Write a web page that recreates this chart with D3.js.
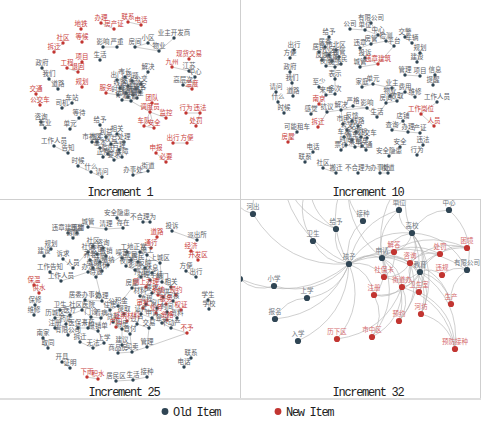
<!DOCTYPE html>
<html>
<head>
<meta charset="utf-8">
<script src="https://cdn.jsdelivr.net/npm/d3@7"></script>
<style>
  body { margin: 0; background: #fff; }
  svg { display: block; }
</style>
</head>
<body>
<svg id="chart" width="481" height="424"></svg>
<script>
// legend + panel titles
const seriesNames = ["Old Item", "New Item"]
const panelTitles = ["Increment 1", "Increment 10", "Increment 25", "Increment 32"]

// nodes: [name, x, y, isNew] in panel layout units (0..240 x 0..200)
// names starting with "_" carry no label
const inc1Nodes = [
  ["办理", 101, 23, 1], ["房产证", 114, 29, 1], ["联系", 128, 22, 1], ["电话", 141, 25, 1], ["地铁", 81, 29, 1],
  ["社区", 63, 43, 1], ["等候", 82, 42, 1], ["拆迁", 54, 52, 1], ["项目", 82, 62, 1], ["工程", 67, 68, 1],
  ["退回", 78, 72, 1], ["规划", 82, 87, 1], ["交通", 36, 94, 1], ["公交车", 40, 105, 1], ["服务", 106, 93, 1],
  ["现货交易", 189, 59, 1], ["九州", 172, 67, 1], ["温度", 192, 89, 1], ["团队", 152, 103, 1], ["调度员", 150, 112, 1],
  ["监控", 166, 118, 1], ["车队", 144, 126, 1], ["安全", 154, 128, 1], ["行为", 186, 113, 1], ["违法", 200, 113, 1],
  ["处罚", 196, 126, 1], ["出行", 173, 143, 1], ["方便", 187, 143, 1], ["申报", 156, 153, 1], ["必要", 166, 162, 1],
  ["业主开发商", 174, 38, 0], ["小区", 148, 43, 0], ["物业", 159, 51, 0], ["房间", 135, 47, 0], ["影响", 103, 47, 0],
  ["严重", 117, 47, 0], ["生活", 100, 60, 0], ["政府", 42, 68, 0], ["我们", 49, 79, 0], ["道路", 58, 89, 0],
  ["解决", 148, 72, 0], ["江苏", 189, 71, 0], ["中心", 195, 77, 0], ["高层次", 183, 85, 0],
  ["车站", 72, 103, 0], ["司机", 62, 108, 0], ["等待", 79, 118, 0], ["咨询", 41, 122, 0], ["营业", 45, 128, 0],
  ["单元", 70, 129, 0], ["给予", 100, 125, 0], ["工作人员", 54, 146, 0], ["告知", 68, 153, 0], ["市社区", 92, 142, 0],
  ["时候", 78, 166, 0], ["什么", 91, 172, 0], ["请问", 102, 177, 0], ["办事处", 133, 175, 0], ["街道", 148, 171, 0],
  ["出门", 117, 80, 0], ["市长", 125, 77, 0], ["问题", 132, 81, 0], ["公交", 141, 84, 0], ["线路", 120, 88, 0],
  ["站点", 128, 86, 0], ["班次", 136, 89, 0], ["时间", 118, 95, 0], ["车辆", 126, 93, 0], ["师傅", 133, 95, 0],
  ["乘客", 140, 92, 0], ["停靠", 122, 100, 0], ["运营", 131, 101, 0], ["调整", 137, 98, 0], ["延误", 128, 97, 0],
  ["利益", 106, 137, 0], ["相关", 117, 134, 0], ["处理", 124, 142, 0], ["权益", 111, 144, 0], ["基本", 100, 148, 0],
  ["合理", 119, 150, 0], ["原因", 108, 154, 0], ["要求", 114, 160, 0], ["正常", 103, 157, 0], ["保障", 122, 157, 0],
  ["核实", 97, 142, 0]
]
const inc1Links = [
  ["办理", "房产证"], ["联系", "电话"], ["社区", "拆迁"], ["项目", "退回"], ["工程", "退回"], ["交通", "公交车"],
  ["业主开发商", "物业"], ["小区", "物业"], ["房间", "物业"], ["小区", "房间"], ["影响", "严重"], ["政府", "我们"],
  ["我们", "道路"], ["车站", "司机"], ["咨询", "营业"], ["工作人员", "告知"], ["时候", "什么"], ["什么", "请问"],
  ["办事处", "街道"], ["行为", "违法"], ["违法", "处罚"], ["出行", "方便"], ["申报", "必要"], ["团队", "调度员"],
  ["调度员", "监控"], ["调度员", "车队"], ["车队", "安全"], ["调度员", "安全"], ["九州", "江苏"], ["江苏", "中心"],
  ["中心", "高层次"], ["高层次", "温度"], ["中心", "温度"], ["单元", "等待"],
  ["出门", "市长"], ["市长", "问题"], ["问题", "公交"], ["出门", "线路"], ["线路", "站点"], ["站点", "班次"],
  ["班次", "公交"], ["线路", "时间"], ["时间", "车辆"], ["车辆", "师傅"], ["师傅", "乘客"], ["乘客", "班次"],
  ["车辆", "停靠"], ["停靠", "运营"], ["运营", "调整"], ["调整", "乘客"], ["延误", "车辆"], ["延误", "站点"],
  ["延误", "运营"], ["市长", "站点"], ["问题", "班次"], ["师傅", "调整"], ["解决", "公交"], ["服务", "时间"],
  ["调度员", "运营"],
  ["利益", "相关"], ["相关", "处理"], ["利益", "权益"], ["权益", "处理"], ["基本", "权益"], ["合理", "处理"],
  ["原因", "权益"], ["原因", "要求"], ["要求", "保障"], ["正常", "原因"], ["合理", "保障"], ["核实", "基本"],
  ["市社区", "核实"], ["给予", "利益"], ["正常", "基本"]
]

const inc10Nodes = [
  ["有限公司", 131, 23, 0], ["公司", 110, 29, 0], ["单位", 125, 30, 0], ["中心", 138, 35, 0], ["检测", 146, 41, 0],
  ["房管", 131, 44, 0], ["平台", 154, 46, 0], ["违章", 120, 48, 0], ["交警", 165, 37, 0], ["车辆", 172, 43, 0],
  ["规划", 180, 53, 0], ["建设", 177, 62, 0], ["投诉", 125, 58, 0], ["城管", 120, 67, 0], ["违章建筑", 138, 64, 1],
  ["给予", 89, 37, 0], ["居委", 85, 47, 0], ["市北区", 96, 50, 0], ["居民", 79, 52, 0], ["小区", 89, 55, 0],
  ["物管", 99, 57, 0], ["反映", 82, 60, 0], ["噪音", 92, 61, 0], ["扰民", 101, 64, 0], ["夜间", 86, 66, 0],
  ["施工", 95, 67, 0], ["表示", 95, 79, 0],
  ["出行", 54, 50, 0], ["方便", 50, 58, 0], ["政府", 50, 72, 0], ["我们", 52, 83, 0], ["道路", 53, 96, 0],
  ["请问", 36, 92, 0], ["什么", 38, 102, 0], ["时候", 44, 113, 0],
  ["至少", 79, 87, 0], ["来电", 86, 95, 0], ["多次", 95, 94, 0], ["南京", 79, 104, 1], ["感觉", 71, 114, 0],
  ["抗议", 87, 112, 0], ["解决", 101, 110, 0], ["严格", 113, 106, 0], ["影响", 127, 108, 0], ["生活", 137, 117, 0],
  ["拆迁", 78, 127, 1], ["可能租车", 57, 132, 0], ["房屋", 48, 142, 1],
  ["家庭", 122, 87, 0], ["单元", 133, 84, 0], ["业主", 152, 88, 0], ["物业", 150, 96, 0], ["费用", 165, 92, 0],
  ["维修", 175, 97, 0], ["收取", 157, 101, 0], ["房间", 146, 103, 0],
  ["管理", 165, 75, 0], ["项目", 180, 76, 0], ["信息", 195, 75, 0], ["提醒", 193, 85, 0], ["工作人员", 197, 102, 0],
  ["工作岗位", 181, 114, 1], ["人员", 194, 126, 1],
  ["店铺", 163, 121, 0], ["查询", 152, 130, 0], ["办理", 168, 132, 0], ["产证", 180, 133, 0],
  ["市民", 103, 124, 0], ["反馈", 112, 121, 0], ["线路", 118, 126, 0], ["公交", 107, 130, 0], ["站台", 116, 132, 0],
  ["车次", 104, 137, 0], ["等车", 112, 140, 0], ["司机", 121, 137, 0], ["时间", 106, 145, 0], ["乘车", 115, 147, 0],
  ["票价", 101, 150, 0], ["班车", 122, 146, 0], ["公交车", 127, 138, 0], ["交通", 126, 150, 0],
  ["安全", 160, 147, 0], ["安全隐患", 149, 156, 0], ["违法", 183, 145, 0], ["行为", 177, 155, 0],
  ["电话", 73, 152, 0], ["联系", 65, 162, 0], ["社区", 83, 168, 0], ["搬迁", 96, 173, 0], ["不合理为", 118, 173, 0],
  ["办事处", 140, 173, 0], ["街道", 148, 173, 0]
]
const inc10Links = [
  ["公司", "单位"], ["单位", "有限公司"], ["单位", "中心"], ["中心", "检测"], ["检测", "平台"], ["房管", "检测"],
  ["房管", "违章"], ["中心", "房管"], ["平台", "违章建筑"], ["交警", "车辆"], ["规划", "建设"], ["投诉", "城管"],
  ["投诉", "违章建筑"], ["城管", "违章建筑"], ["违章", "投诉"], ["有限公司", "中心"],
  ["给予", "居委"], ["居委", "市北区"], ["居委", "居民"], ["居民", "小区"], ["小区", "物管"], ["市北区", "物管"],
  ["小区", "反映"], ["反映", "噪音"], ["噪音", "扰民"], ["物管", "扰民"], ["夜间", "噪音"], ["施工", "夜间"],
  ["施工", "扰民"], ["施工", "表示"], ["小区", "噪音"], ["市北区", "小区"], ["居民", "反映"],
  ["出行", "方便"], ["政府", "我们"], ["我们", "道路"], ["请问", "什么"], ["什么", "时候"],
  ["表示", "多次"], ["至少", "来电"], ["来电", "多次"], ["来电", "南京"], ["南京", "感觉"], ["南京", "抗议"],
  ["抗议", "解决"], ["解决", "严格"], ["严格", "影响"], ["影响", "生活"], ["拆迁", "抗议"], ["可能租车", "房屋"],
  ["解决", "影响"],
  ["家庭", "单元"], ["单元", "业主"], ["业主", "物业"], ["物业", "费用"], ["费用", "维修"], ["物业", "收取"],
  ["收取", "费用"], ["房间", "收取"], ["生活", "房间"], ["房间", "物业"],
  ["管理", "项目"], ["信息", "提醒"], ["工作人员", "工作岗位"], ["工作岗位", "人员"],
  ["店铺", "查询"], ["查询", "办理"], ["办理", "产证"], ["店铺", "办理"],
  ["市民", "反馈"], ["反馈", "线路"], ["市民", "公交"], ["公交", "站台"], ["线路", "站台"], ["公交", "车次"],
  ["车次", "等车"], ["站台", "司机"], ["等车", "司机"], ["车次", "时间"], ["等车", "乘车"], ["时间", "乘车"],
  ["时间", "票价"], ["乘车", "班车"], ["司机", "班车"], ["司机", "公交车"], ["班车", "交通"], ["公交车", "交通"],
  ["站台", "等车"], ["反馈", "公交"], ["解决", "市民"],
  ["安全", "安全隐患"], ["违法", "行为"], ["电话", "联系"], ["社区", "搬迁"], ["办事处", "街道"]
]

const inc25Nodes = [
  ["安全隐患", 117, 18, 0], ["城管", 88, 27, 0], ["清理", 106, 29, 0], ["存在", 123, 28, 0], ["不合理为", 143, 22, 0],
  ["_p3a", 150, 22, 0], ["违章建筑物", 68, 33, 0], ["违建", 77, 33, 0], ["拆除", 73, 38, 0], ["投诉", 172, 31, 0],
  ["派出所", 197, 40, 0], ["道路", 157, 37, 1], ["通行", 151, 48, 1], ["经济", 191, 51, 1], ["开发区", 198, 60, 1],
  ["规划", 51, 49, 0], ["建设", 44, 56, 0], ["诉求", 63, 59, 0], ["人员", 73, 68, 0], ["工作告知", 50, 72, 0],
  ["工作人员", 61, 81, 0], ["保温", 34, 85, 1], ["供水", 39, 93, 1], ["保修", 35, 105, 0], ["维修", 34, 115, 0],
  ["南家", 43, 138, 0], ["取同", 48, 148, 0], ["开具", 62, 162, 0], ["证明", 70, 168, 0], ["下雨", 87, 177, 1],
  ["积水", 98, 179, 1],
  ["居民区", 116, 181, 0], ["生活", 133, 180, 0], ["接种", 147, 177, 0], ["联系", 191, 158, 0], ["电话", 184, 167, 0],
  ["学生", 208, 100, 0], ["学校", 209, 109, 0], ["方便", 186, 71, 0], ["出行", 196, 77, 0],
  ["社区", 93, 46, 0], ["咨询", 103, 48, 0], ["社保", 88, 52, 0], ["医保", 97, 54, 0], ["报销", 106, 56, 0],
  ["养老", 90, 60, 0], ["保险", 100, 62, 0], ["缴纳", 108, 65, 0], ["缴费", 93, 68, 0], ["退休", 102, 71, 0],
  ["待遇", 96, 77, 0], ["办法", 88, 72, 0],
  ["工地", 127, 52, 0], ["正常", 140, 52, 0], ["施工", 147, 55, 0], ["噪音", 122, 58, 0], ["扰民", 131, 60, 0],
  ["居民", 138, 62, 0], ["夜间", 126, 66, 0], ["上城区", 160, 63, 0], ["反映", 145, 68, 0], ["影响", 135, 70, 0],
  ["休息", 152, 73, 0], ["严重", 141, 77, 0],
  ["房屋", 132, 88, 0], ["办理手续", 150, 80, 0], ["部门", 162, 82, 0], ["相关", 171, 87, 0], ["材料", 140, 96, 0],
  ["要求", 152, 93, 0], ["提供", 163, 97, 0], ["审核", 173, 101, 0], ["流程", 146, 104, 0], ["窗口", 157, 108, 0],
  ["时间", 167, 112, 0], ["资料", 177, 118, 0], ["证件", 141, 114, 0], ["申请", 152, 118, 0], ["登记", 162, 123, 0],
  ["不动产", 171, 128, 0], ["交易", 149, 128, 0], ["过户", 137, 124, 0],
  ["网上办理", 146, 87, 1], ["系统", 158, 95, 1], ["服务", 166, 104, 1], ["预约", 176, 95, 1], ["业务", 156, 113, 1],
  ["权证", 181, 110, 1], ["不予", 187, 133, 1], ["资格", 167, 120, 1], ["审批", 143, 108, 1],
  ["居委办事处", 85, 100, 0], ["卫生", 60, 110, 0], ["社区医院", 82, 110, 0], ["历城区", 55, 118, 0], ["医疗", 70, 115, 0],
  ["门诊", 91, 117, 0], ["看病", 101, 118, 0], ["注册", 55, 128, 0], ["药店", 66, 124, 0], ["有限公司", 68, 135, 0],
  ["医保卡", 78, 128, 0], ["开药", 88, 128, 0], ["报销单", 98, 131, 0], ["拆迁", 80, 142, 0], ["无法", 93, 148, 0],
  ["上学", 104, 143, 0], ["建议", 122, 145, 0], ["商品房", 118, 153, 0], ["买卖", 132, 152, 0], ["管理", 147, 147, 0],
  ["办理", 102, 101, 0], ["住房", 110, 110, 0], ["公积金", 118, 106, 0], ["提取", 124, 114, 0], ["贷款", 113, 122, 0],
  ["购房", 122, 129, 0], ["首付", 130, 134, 0], ["证明材料", 127, 121, 1], ["户口", 116, 127, 1]
]
const inc25Links = [
  ["不合理为", "_p3a"], ["投诉", "派出所"], ["道路", "通行"], ["经济", "开发区"], ["违章建筑物", "违建"],
  ["违建", "拆除"], ["违章建筑物", "拆除"], ["城管", "清理"], ["清理", "存在"], ["安全隐患", "存在"],
  ["规划", "建设"], ["诉求", "人员"], ["工作告知", "工作人员"], ["保温", "供水"], ["保修", "维修"], ["南家", "取同"],
  ["开具", "证明"], ["下雨", "积水"], ["工作人员", "办法"], ["人员", "社保"],
  ["居民区", "生活"], ["生活", "接种"], ["联系", "电话"], ["学生", "学校"], ["方便", "出行"],
  ["社区", "咨询"], ["社区", "社保"], ["社保", "医保"], ["医保", "报销"], ["咨询", "报销"], ["社保", "养老"],
  ["养老", "保险"], ["医保", "保险"], ["保险", "缴纳"], ["报销", "缴纳"], ["养老", "缴费"], ["缴费", "退休"],
  ["保险", "退休"], ["退休", "待遇"], ["缴费", "办法"], ["办法", "待遇"], ["待遇", "办理"],
  ["工地", "正常"], ["正常", "施工"], ["工地", "噪音"], ["噪音", "扰民"], ["扰民", "居民"], ["正常", "居民"],
  ["扰民", "夜间"], ["居民", "反映"], ["施工", "上城区"], ["反映", "影响"], ["夜间", "影响"], ["反映", "休息"],
  ["影响", "严重"], ["休息", "严重"], ["严重", "房屋"], ["施工", "反映"], ["缴纳", "工地"], ["上城区", "部门"],
  ["房屋", "网上办理"], ["网上办理", "办理手续"], ["办理手续", "部门"], ["部门", "相关"], ["网上办理", "材料"],
  ["材料", "要求"], ["要求", "系统"], ["系统", "提供"], ["提供", "相关"], ["提供", "审核"], ["审核", "预约"],
  ["预约", "相关"], ["要求", "流程"], ["流程", "窗口"], ["窗口", "服务"], ["服务", "时间"], ["审核", "服务"],
  ["时间", "资料"], ["资料", "权证"], ["权证", "审核"], ["流程", "审批"], ["审批", "证件"], ["证件", "申请"],
  ["申请", "业务"], ["业务", "窗口"], ["申请", "登记"], ["登记", "资格"], ["资格", "时间"], ["登记", "不动产"],
  ["不动产", "不予"], ["资料", "不动产"], ["申请", "交易"], ["交易", "过户"], ["过户", "证件"], ["交易", "管理"],
  ["管理", "不予"],
  ["居委办事处", "办理"], ["居委办事处", "社区医院"], ["卫生", "医疗"], ["社区医院", "医疗"], ["社区医院", "门诊"],
  ["门诊", "看病"], ["历城区", "医疗"], ["历城区", "注册"], ["注册", "药店"], ["药店", "医疗"], ["药店", "有限公司"],
  ["有限公司", "医保卡"], ["医保卡", "开药"], ["门诊", "开药"], ["开药", "报销单"], ["看病", "报销单"],
  ["医保卡", "拆迁"], ["拆迁", "无法"], ["无法", "上学"], ["上学", "报销单"], ["办理", "住房"], ["住房", "公积金"],
  ["公积金", "提取"], ["住房", "贷款"], ["提取", "贷款"], ["贷款", "购房"], ["购房", "首付"], ["提取", "证明材料"],
  ["证明材料", "户口"], ["户口", "购房"], ["购房", "建议"], ["建议", "商品房"], ["商品房", "买卖"], ["买卖", "首付"],
  ["看病", "住房"], ["首付", "过户"], ["证明材料", "审批"], ["公积金", "房屋"], ["买卖", "管理"]
]

const inc32Nodes = [
  ["河出", 13, 14, 0], ["单位", 159, 10, 0], ["中心", 209, 10, 0], ["接种", 123, 21, 0], ["给予", 96, 29, 0],
  ["卫生", 73, 41, 0], ["高校", 172, 33, 0], ["解答", 154, 52, 1], ["困境", 227, 48, 1], ["处罚", 200, 54, 1],
  ["申请", 142, 58, 0], ["孩子", 109, 64, 0], ["咨询", 170, 63, 1], ["教育", 180, 72, 0], ["有限公司", 227, 70, 0],
  ["违规", 202, 75, 1], ["社保卡", 144, 77, 1], ["街道办", 162, 87, 1], ["卫生室", 179, 92, 1], ["小学", 34, 86, 0],
  ["上学", 67, 98, 0], ["注册", 134, 95, 1], ["生产", 211, 104, 1], ["报名", 35, 119, 0], ["河坊", 181, 114, 1],
  ["预约", 159, 121, 1], ["入学", 58, 141, 0], ["历下区", 97, 139, 1], ["市中区", 132, 137, 1], ["预防接种", 215, 149, 1],
  ["_e1", 0, 79, 0], ["_o1", 40, -40, 0], ["_o2", 110, -30, 0], ["_o3", 180, -35, 0], ["_o4", -10, -10, 0],
  ["_o5", 240, -15, 0], ["_o6", 70, -20, 0]
]
const inc32Links = [
  ["孩子", "小学"], ["孩子", "上学"], ["孩子", "入学"], ["孩子", "报名"], ["孩子", "卫生"], ["孩子", "给予"],
  ["孩子", "接种"], ["孩子", "申请"], ["孩子", "_e1"], ["孩子", "河出"], ["孩子", "社保卡"], ["孩子", "注册"],
  ["孩子", "教育"], ["孩子", "高校"], ["孩子", "单位"], ["孩子", "咨询"], ["孩子", "历下区"], ["孩子", "_o1"],
  ["孩子", "_o2"], ["孩子", "有限公司"],
  ["申请", "解答"], ["申请", "咨询"], ["申请", "处罚"], ["申请", "教育"], ["申请", "高校"], ["申请", "单位"],
  ["申请", "注册"], ["申请", "社保卡"], ["申请", "街道办"], ["申请", "预约"], ["申请", "市中区"], ["申请", "困境"],
  ["申请", "_o2"], ["申请", "_o3"],
  ["高校", "单位"], ["高校", "中心"], ["高校", "教育"], ["高校", "咨询"], ["高校", "解答"], ["高校", "卫生室"],
  ["高校", "河坊"], ["高校", "预约"], ["高校", "_o3"], ["高校", "有限公司"],
  ["教育", "困境"], ["教育", "处罚"], ["教育", "违规"], ["教育", "生产"], ["教育", "街道办"], ["教育", "卫生室"],
  ["教育", "预防接种"], ["教育", "河坊"], ["教育", "社保卡"], ["教育", "注册"],
  ["咨询", "预约"], ["咨询", "河坊"], ["咨询", "生产"], ["咨询", "街道办"], ["咨询", "社保卡"], ["咨询", "处罚"],
  ["咨询", "困境"],
  ["街道办", "预约"], ["街道办", "预防接种"], ["街道办", "历下区"], ["街道办", "注册"], ["街道办", "市中区"],
  ["河出", "_o4"], ["河出", "_o1"], ["给予", "_o1"], ["给予", "_o6"], ["接种", "_o2"], ["单位", "_o3"],
  ["中心", "_o5"], ["中心", "有限公司"], ["卫生", "_o6"], ["小学", "_e1"], ["报名", "上学"], ["卫生室", "预防接种"],
  ["违规", "有限公司"], ["生产", "有限公司"], ["解答", "社保卡"], ["处罚", "困境"], ["河坊", "预防接种"],
  ["注册", "市中区"], ["卫生室", "咨询"]
]

const oldColor = "#2f4554"
const newColor = "#c23531"
const W = 481, H = 424

const svg = d3.select("#chart")

// frame lines between the four panels
const frame = svg.append("g").attr("fill", "none")
frame.append("line").attr("x1", 0).attr("x2", W).attr("y1", 199.5).attr("y2", 199.5).attr("stroke", "#cfcfcf")
frame.append("line").attr("x1", 240.5).attr("x2", 240.5).attr("y1", 0).attr("y2", 399).attr("stroke", "#cfcfcf")
frame.append("line").attr("x1", 480.5).attr("x2", 480.5).attr("y1", 200).attr("y2", 399).attr("stroke", "#cfcfcf")
frame.append("line").attr("x1", 0).attr("x2", W).attr("y1", 399).attr("y2", 399).attr("stroke", "#dedede").attr("stroke-width", 2)

const panels = [
  {nodes: inc1Nodes, links: inc1Links, ox: 0, oy: 0, tx: 120},
  {nodes: inc10Nodes, links: inc10Links, ox: 240, oy: 0, tx: 368},
  {nodes: inc25Nodes, links: inc25Links, ox: 0, oy: 200, tx: 124},
  {nodes: inc32Nodes, links: inc32Links, ox: 240, oy: 200, tx: 368, big: true},
]

svg.append("defs").append("clipPath").attr("id", "clip4")
  .append("rect").attr("x", 241).attr("y", 200).attr("width", 239).attr("height", 198)

panels.forEach((p, i) => {
  const x = d3.scaleLinear().domain([0, 240]).range([p.ox, p.ox + 240])
  const y = d3.scaleLinear().domain([0, 200]).range([p.oy, p.oy + 200])
  const byName = new Map(p.nodes.map((d) => [d[0], d]))
  const links = p.links.filter((l) => byName.has(l[0]) && byName.has(l[1]))

  const g = svg.append("g")
  if (p.big) g.attr("clip-path", "url(#clip4)")

  // edges: straight in the small graphs, curved in the zoomed one
  const edge = (l) => {
    const a = byName.get(l[0]), b = byName.get(l[1])
    const x1 = x(a[1]), y1 = y(a[2]), x2 = x(b[1]), y2 = y(b[2])
    if (!p.big) return `M${x1},${y1}L${x2},${y2}`
    const c = 0.3
    const cx = (x1 + x2) / 2 - (y1 - y2) * c
    const cy = (y1 + y2) / 2 - (x2 - x1) * c
    return `M${x1},${y1}Q${cx},${cy} ${x2},${y2}`
  }

  g.append("g")
    .attr("fill", "none")
    .selectAll("path")
    .data(links)
    .join("path")
    .attr("d", edge)
    .attr("stroke", p.big ? "#b4b4b4" : "#9a9a9a")
    .attr("stroke-width", p.big ? 0.8 : 0.6)
    .attr("stroke-opacity", p.big ? 0.8 : 0.85)

  g.append("g")
    .selectAll("circle")
    .data(p.nodes)
    .join("circle")
    .attr("cx", (d) => x(d[1]))
    .attr("cy", (d) => y(d[2]))
    .attr("r", p.big ? 3.1 : 1.7)
    .attr("fill", (d) => (d[3] ? newColor : oldColor))

  g.append("g")
    .attr("font-family", "'Noto Sans CJK SC', sans-serif")
    .attr("font-size", 6.5)
    .attr("text-anchor", "middle")
    .selectAll("text")
    .data(p.nodes.filter((d) => !d[0].startsWith("_")))
    .join("text")
    .attr("x", (d) => x(d[1]))
    .attr("y", (d) => y(d[2]) - (p.big ? 5.5 : 3.5))
    .attr("fill", (d) => (d[3] ? (p.big ? "#d46a6c" : "#c9403c") : (p.big ? "#6f7780" : "#5b6066")))
    .text((d) => d[0])

  svg.append("text")
    .attr("x", p.tx)
    .attr("y", p.oy + 195.5)
    .attr("text-anchor", "middle")
    .attr("font-family", "'Liberation Mono', monospace")
    .attr("font-size", 12)
    .attr("letter-spacing", -1.3)
    .attr("fill", "#222")
    .text(panelTitles[i])
})

// legend
const legend = svg.append("g").attr("font-family", "'Liberation Mono', monospace").attr("font-size", 12)
const legendX = [165, 278]
seriesNames.forEach((name, i) => {
  legend.append("circle").attr("cx", legendX[i]).attr("cy", 411.5).attr("r", 3.4)
    .attr("fill", i ? newColor : oldColor)
  legend.append("text").attr("x", legendX[i] + 8).attr("y", 415.5)
    .attr("letter-spacing", -1.3).attr("fill", "#222").text(name)
})
</script>
</body>
</html>
